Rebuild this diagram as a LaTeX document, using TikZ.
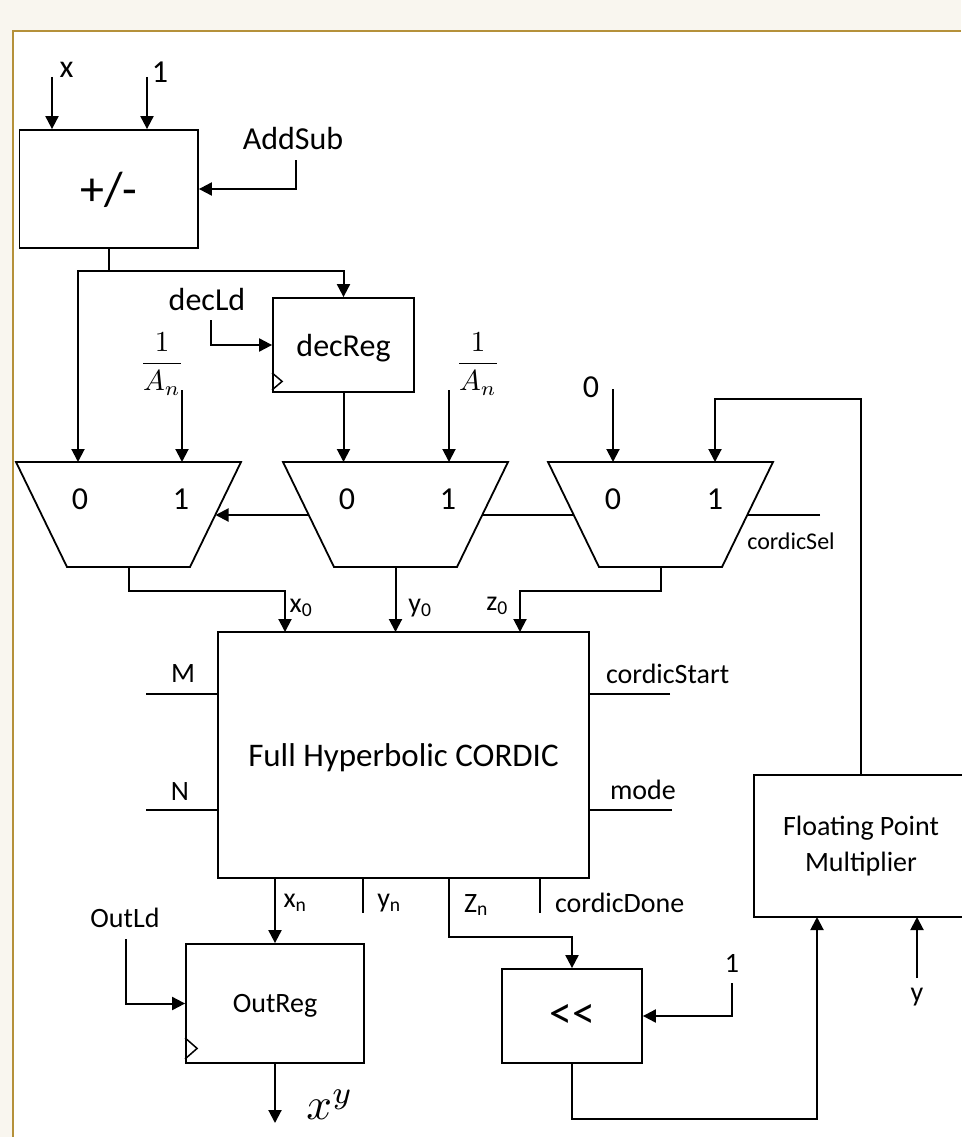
\documentclass[tikz,border=0pt]{standalone}
\usepackage{fontspec}
\setmainfont{Carlito}
\usepackage{graphicx}
\usetikzlibrary{arrows.meta,calc}
\definecolor{cream}{HTML}{F9F6EF}
\definecolor{gold}{HTML}{B5913A}
\begin{document}
\begin{tikzpicture}[x=1pt,y=-1pt,line width=2pt,
  box/.style={draw,fill=white,inner sep=0pt,line width=1.8pt,text depth=0pt},
  arr/.style={-{Triangle[length=13pt,width=13pt]}},
  big/.style={inner sep=0pt,font=\fontsize{32}{38}\selectfont},
  med/.style={inner sep=0pt,font=\fontsize{28}{34}\selectfont},
  sml/.style={inner sep=0pt,font=\fontsize{24}{29}\selectfont},
  muxpic/.pic={\draw[fill=white,line width=1.8pt] (-112.5,-52.5) -- (112.5,-52.5) -- (61.5,52.5) -- (-61.5,52.5) -- cycle;}]
\useasboundingbox (0,0) rectangle (961,1137);
\fill[cream] (0,0) rectangle (961,1137);
\fill[white] (13,31) rectangle (961,1137);
\draw[gold,line width=2pt] (13,1137) -- (13,31) -- (961,31);

% ---------- boxes ----------
\node[box,minimum width=178.5pt,minimum height=118pt,font=\fontsize{48}{56}\selectfont] (addsub) at (108.75,189) {+/-};
\node[box,big,minimum width=141pt,minimum height=94pt] (decreg) at (343.5,345) {decReg};
\node[box,minimum width=371pt,minimum height=246pt,font=\fontsize{33}{40}\selectfont] (cordic) at (403.5,755) {Full Hyperbolic CORDIC};
\node[box,med,minimum width=178pt,minimum height=119pt] (outreg) at (275,1003.5) {OutReg};
\node[box,minimum width=140pt,minimum height=94pt,font=\fontsize{46}{54}\selectfont] (shl) at (572,1016) {<{}<};
\node[box,minimum width=214pt,minimum height=142pt,align=center,font=\fontsize{28}{36}\selectfont,text depth=] (fpm) at (861,846) {Floating Point\\Multiplier};

% clock marks
\draw[line width=1.5pt] ($(decreg.south west)+(0,-20)$) -- ++(10,8.5) -- ++(-10,8.5);
\draw[line width=1.5pt] ($(outreg.south west)+(0,-26)$) -- ++(12,10.5) -- ++(-12,10.5);

% ---------- coordinates ----------
\coordinate (xin) at (52,77);
\coordinate (onein) at (147,77);
\coordinate (asin) at (296,160);
\coordinate (split) at (108.75,271);
\coordinate (dlin) at (211,320);
\coordinate (m1i0) at (78,462);
\coordinate (m1i1) at (182,462);
\coordinate (m2i1) at (449,462);
\coordinate (m3i0) at (613,462);
\coordinate (m3i1) at (715,462);
\coordinate (fa1) at (182,390);
\coordinate (fa2) at (449,390);
\coordinate (zin) at (613,389);
\coordinate (selin) at (820,515);
\coordinate (m1sel) at (215.5,515);
\coordinate (m1o) at (128.5,567);
\coordinate (m2o) at (395.5,567);
\coordinate (m3o) at (660.5,567);
\coordinate (cx0) at (285,632);
\coordinate (cy0) at (395.5,632);
\coordinate (cz0) at (520,632);
\coordinate (mL) at (146,694);
\coordinate (nL) at (146,810);
\coordinate (csR) at (670,694);
\coordinate (mdR) at (672,810);
\coordinate (yn) at (363,913);
\coordinate (cd) at (540,913);
\coordinate (znA) at (449,878);
\coordinate (olin) at (126,939);
\coordinate (xyo) at (275,1123);
\coordinate (onesh) at (732,983);
\coordinate (fpmA) at (817,917);
\coordinate (yin) at (917,978);
\coordinate (fpmB) at (917,917);

% ---------- connectors ----------
\draw[arr] (xin) -- (xin |- addsub.north);
\draw[arr] (onein) -- (onein |- addsub.north);
\draw[arr] (asin) |- (addsub.east);
\draw (addsub.south) -- (split);
\draw[arr] (split) -| (m1i0);
\draw[arr] (split) -| (decreg.north);
\draw[arr] (dlin) |- (decreg.west);
\draw[arr] (fa1) -- (m1i1);
\draw[arr] (fa2) -- (m2i1);
\draw[arr] (decreg.south) -- (decreg.south |- m1i0);
\draw[arr] (zin) -- (m3i0);
\draw[arr] (fpm.north) -- ++(0,-375) -| (m3i1);
\draw[arr] (selin) -- (m1sel);

% ---------- muxes ----------
\pic (m1) at (128.5,514.5) {muxpic};
\pic (m2) at (395.5,514.5) {muxpic};
\pic (m3) at (660.5,514.5) {muxpic};
\node[big] (m1a) at (80,499) {0};
\node[big] (m1b) at (181,499) {1};
\node[big] (m2a) at (347,499) {0};
\node[big] (m2b) at (448,499) {1};
\node[big] (m3a) at (613,499) {0};
\node[big] (m3b) at (715,499) {1};

\draw[arr] (m1o) -- ++(0,24) -| (cx0);
\draw[arr] (m2o) -- (cy0);
\draw[arr] (m3o) -- ++(0,24) -| (cz0);

\draw (mL) -- (mL -| cordic.west);
\draw (nL) -- (nL -| cordic.west);
\draw (csR) -- (csR -| cordic.east);
\draw (mdR) -- (mdR -| cordic.east);

\draw[arr] (outreg.north |- cordic.south) -- (outreg.north);
\draw (yn |- cordic.south) -- (yn);
\draw (cd |- cordic.south) -- (cd);
\draw[arr] (znA) -- ++(0,59) -| (shl.north);
\draw[arr] (olin) |- (outreg.west);
\draw[arr] (outreg.south) -- (xyo);
\draw[arr] (onesh) |- (shl.east);
\draw[arr] (shl.south) -- ++(0,55) -| (fpmA);
\draw[arr] (yin) -- (fpmB);

% ---------- labels ----------
\node[big] (lx) at (66.5,70) {x};
\node[big] (l1) at (160,72) {1};
\node[big] (ladd) at (293,139) {AddSub};
\node[big] (ldl) at (207,299) {decLd};
\node[inner sep=0pt] (lfa1) at (162,364) {\scalebox{2.9}{$\displaystyle\frac{1}{A_n}$}};
\node[inner sep=0pt] (lfa2) at (478,364) {\scalebox{2.9}{$\displaystyle\frac{1}{A_n}$}};
\node[big] (lz) at (591,387) {0};
\node[sml] (lsel) at (791,541) {cordicSel};
\node[med] (lx0) at (301,608) {x\textsubscript{0}};
\node[med] (ly0) at (420,608) {y\textsubscript{0}};
\node[med] (lz0) at (497,606) {z\textsubscript{0}};
\node[med] (lM) at (183,674) {M};
\node[med] (lN) at (180,792) {N};
\node[med,anchor=west] (lcs) at (605,674) {cordicStart};
\node[med] (lmd) at (643,790) {mode};
\node[med] (lxn) at (295,903) {x\textsubscript{n}};
\node[med] (lyn) at (389,903) {y\textsubscript{n}};
\node[med] (lzn) at (476,905) {Z\textsubscript{n}};
\node[med,anchor=west] (lcd) at (554,903) {cordicDone};
\node[med] (lol) at (125,918) {OutLd};
\node[inner sep=0pt] (lxy) at (330,1105) {\scalebox{4.5}{$x^y$}};
\node[med] (l1s) at (732,963) {1};
\node[med] (ly) at (917,997) {y};
\end{tikzpicture}
\end{document}
